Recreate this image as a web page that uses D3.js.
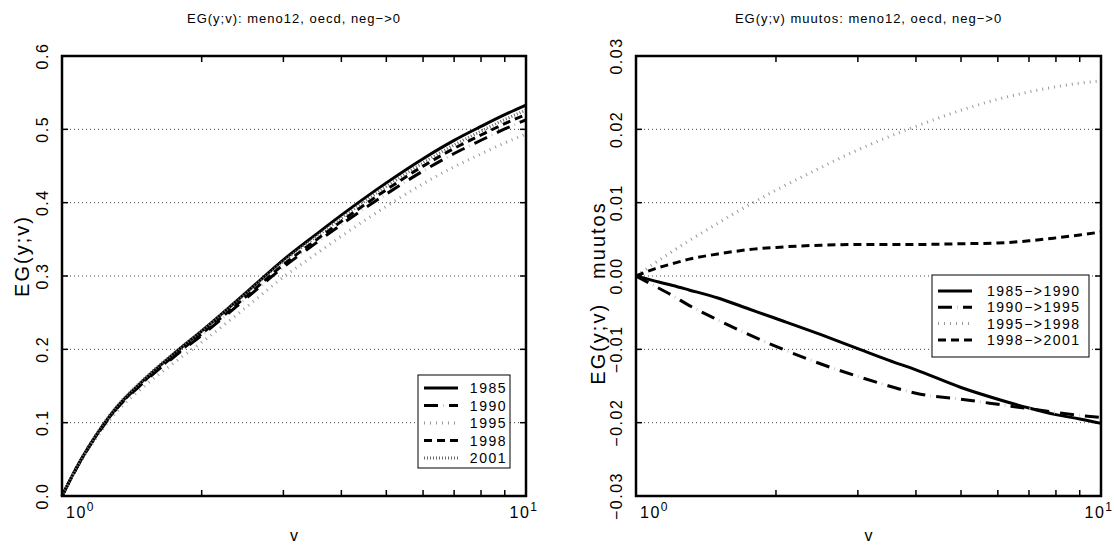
<!DOCTYPE html>
<html>
<head>
<meta charset="utf-8">
<script src="https://cdn.jsdelivr.net/npm/d3@7"></script>
<style>
  body { margin: 0; background: #fff; }
  text { font-family: "Liberation Sans", Arial, sans-serif; fill: #000; }
</style>
</head>
<body>
<div id="chart"></div>
<script>
// v grid (log axis) and the values
const vValues = [1, 1.1, 1.2, 1.3, 1.5, 1.75, 2, 2.5, 3, 3.5, 4, 5, 6, 7, 8, 9, 10];

const eg1985 = [0, 0.0500, 0.0880, 0.1180, 0.1580, 0.1950, 0.2250, 0.2780, 0.3220, 0.3550, 0.3830, 0.4270, 0.4600, 0.4850, 0.5040, 0.5200, 0.5330];
const eg1990 = [0, 0.0493, 0.0867, 0.1161, 0.1550, 0.1905, 0.2192, 0.2700, 0.3121, 0.3435, 0.3702, 0.4118, 0.4432, 0.4670, 0.4851, 0.5005, 0.5129];
const eg1995 = [0, 0.0479, 0.0840, 0.1121, 0.1490, 0.1825, 0.2096, 0.2580, 0.2984, 0.3285, 0.3542, 0.3950, 0.4257, 0.4489, 0.4665, 0.4815, 0.4936];
const eg1998 = [0, 0.0497, 0.0874, 0.1169, 0.1562, 0.1922, 0.2213, 0.2728, 0.3156, 0.3475, 0.3746, 0.4176, 0.4498, 0.4740, 0.4923, 0.5078, 0.5202];
const eg2001 = [0, 0.0507, 0.0891, 0.1192, 0.1592, 0.1958, 0.2252, 0.2770, 0.3199, 0.3518, 0.3789, 0.4220, 0.4543, 0.4788, 0.4975, 0.5134, 0.5262];

const ch8590 = [0, -0.0007, -0.0013, -0.0019, -0.0030, -0.0045, -0.0058, -0.0080, -0.0099, -0.0115, -0.0128, -0.0152, -0.0168, -0.0180, -0.0189, -0.0195, -0.0201];
const ch9095 = [0, -0.0014, -0.0027, -0.0040, -0.0060, -0.0080, -0.0096, -0.0120, -0.0137, -0.0150, -0.0160, -0.0168, -0.0175, -0.0181, -0.0186, -0.0190, -0.0193];
const ch9598 = [0, 0.0018, 0.0034, 0.0048, 0.0072, 0.0097, 0.0117, 0.0148, 0.0172, 0.0190, 0.0204, 0.0226, 0.0241, 0.0251, 0.0258, 0.0263, 0.0266];
const ch9801 = [0, 0.0010, 0.0017, 0.0023, 0.0030, 0.0036, 0.0039, 0.0042, 0.0043, 0.0043, 0.0043, 0.0044, 0.0045, 0.0048, 0.0052, 0.0056, 0.0060];

const levelNames = ["1985", "1990", "1995", "1998", "2001"];
const changeNames = ["1985\u2212>1990", "1990\u2212>1995", "1995\u2212>1998", "1998\u2212>2001"];

const levelTicks = [0, 0.1, 0.2, 0.3, 0.4, 0.5, 0.6];
const changeTicks = [-0.03, -0.02, -0.01, 0, 0.01, 0.02, 0.03];
const xMajor = [1, 10];
const xMajorExp = ["0", "1"];
const xMinor = [2, 3, 4, 5, 6, 7, 8, 9];

// IDL-like line styles: solid, long dash (+ faint dot), dotted, dashed, dense dots
const styles = [
  { w: 3, dash: null, color: "#000" },
  { w: 3, dash: "14,11", color: "#000", dot: { dash: "1,24", offset: -19, color: "#ccc" } },
  { w: 3, dash: "1,5", color: "#999" },
  { w: 3, dash: "8,5", color: "#000" },
  { w: 3, dash: "1,2", color: "#666" }
];

const W = 1114, H = 547;
const svg = d3.select("#chart").append("svg")
  .attr("width", W).attr("height", H)
  .attr("viewBox", [0, 0, W, H]);
svg.append("rect").attr("width", W).attr("height", H).attr("fill", "#fff");

function stroke(sel, st) {
  return sel.attr("fill", "none")
    .attr("stroke", st.color)
    .attr("stroke-width", st.w)
    .attr("stroke-dasharray", st.dash)
    .attr("stroke-dashoffset", st.offset || null);
}

function drawPanel(p) {
  const x = d3.scaleLog().domain([1, 10]).range([p.left, p.right]);
  const y = d3.scaleLinear().domain(p.yDomain).range([p.bottom, p.top]);
  const g = svg.append("g");

  // dotted grid
  g.selectAll(".grid").data(p.yTicks).join("line")
    .attr("x1", p.left).attr("x2", p.right)
    .attr("y1", d => y(d)).attr("y2", d => y(d))
    .attr("stroke", "#444").attr("stroke-width", 1)
    .attr("stroke-dasharray", "1,3");

  // y ticks on both sides, inward
  g.selectAll(".ytl").data(p.yTicks).join("line")
    .attr("x1", p.left).attr("x2", p.left + 6)
    .attr("y1", d => y(d)).attr("y2", d => y(d))
    .attr("stroke", "#000").attr("stroke-width", 1.5);
  g.selectAll(".ytr").data(p.yTicks).join("line")
    .attr("x1", p.right).attr("x2", p.right - 6)
    .attr("y1", d => y(d)).attr("y2", d => y(d))
    .attr("stroke", "#000").attr("stroke-width", 1.5);

  // log minor ticks on bottom and top
  [[p.bottom, -6], [p.top, 6]].forEach(([yy, len]) => {
    g.selectAll(null).data(xMinor).join("line")
      .attr("x1", d => x(d)).attr("x2", d => x(d))
      .attr("y1", yy).attr("y2", yy + len)
      .attr("stroke", "#000").attr("stroke-width", 1.5);
  });

  // curves
  const line = d3.line()
    .x((d, i) => x(vValues[i]))
    .y(d => y(d))
    .curve(d3.curveMonotoneX);
  p.series.forEach((s, i) => {
    const st = styles[p.styleIdx[i]];
    stroke(g.append("path").datum(s), st)
      .attr("stroke-linejoin", "round")
      .attr("d", line);
    if (st.dot) {
      stroke(g.append("path").datum(s), { w: st.w, ...st.dot }).attr("d", line);
    }
  });

  // frame
  g.append("rect")
    .attr("x", p.left).attr("y", p.top)
    .attr("width", p.right - p.left).attr("height", p.bottom - p.top)
    .attr("fill", "none").attr("stroke", "#000").attr("stroke-width", 2.5);

  // y tick labels, rotated
  g.selectAll(".ylab").data(p.yTicks).join("text")
    .attr("transform", d => `translate(${p.left - 14},${y(d)}) rotate(-90)`)
    .attr("text-anchor", "middle")
    .attr("font-size", 16)
    .attr("letter-spacing", 1.5)
    .text(d => d3.format(p.fmt)(d));

  // x tick labels 10^n
  xMajor.forEach((v, i) => {
    const t = g.append("text")
      .attr("x", i === 0 ? x(v) + 4 : x(v) - 2)
      .attr("y", p.bottom + 22)
      .attr("text-anchor", i === 0 ? "start" : "middle")
      .attr("font-size", 16)
      .attr("letter-spacing", 1.5)
      .text("10");
    t.append("tspan").attr("dy", -7).attr("font-size", 12).text(xMajorExp[i]);
  });

  // axis titles
  g.append("text")
    .attr("x", (p.left + p.right) / 2).attr("y", p.bottom + 45)
    .attr("text-anchor", "middle").attr("font-size", 16)
    .text("v");
  const yt = g.append("text")
    .attr("transform", `translate(${p.yTitleX},${p.yTitleY}) rotate(-90)`)
    .attr("text-anchor", "middle").attr("font-size", 20)
    .attr("letter-spacing", 2)
    .text(p.yTitle[0]);
  if (p.yTitle[1]) yt.append("tspan").attr("dx", 24).text(p.yTitle[1]);
  g.append("text")
    .attr("x", (p.left + p.right) / 2).attr("y", 23)
    .attr("text-anchor", "middle").attr("font-size", 13)
    .attr("letter-spacing", 1)
    .text(p.title);

  // legend
  const L = p.legend;
  g.append("rect")
    .attr("x", L.x).attr("y", L.y).attr("width", L.w).attr("height", L.h)
    .attr("fill", "#fff").attr("stroke", "#000").attr("stroke-width", 1);
  p.names.forEach((name, i) => {
    const st = styles[p.styleIdx[i]];
    const yy = L.y + L.first + i * L.step;
    const seg = () => g.append("line")
      .attr("x1", L.x + 6).attr("x2", L.x + 6 + L.sample)
      .attr("y1", yy).attr("y2", yy);
    stroke(seg(), st);
    if (st.dot) stroke(seg(), { w: st.w, ...st.dot });
    g.append("text")
      .attr("x", L.textX).attr("y", yy + 5)
      .attr("text-anchor", L.anchor)
      .attr("font-size", 14)
      .attr("letter-spacing", 1.5)
      .text(name);
  });
}

drawPanel({
  left: 62, right: 526, top: 56, bottom: 496,
  yDomain: [0, 0.6], yTicks: levelTicks, fmt: ".1f",
  series: [eg1985, eg1990, eg1995, eg1998, eg2001],
  styleIdx: [0, 1, 2, 3, 4],
  names: levelNames,
  title: "EG(y;v): meno12, oecd, neg\u2212>0",
  yTitle: ["EG(y;v)"], yTitleX: 29, yTitleY: 256,
  legend: { x: 418, y: 375, w: 92, h: 93, first: 13, step: 17.5, sample: 34, textX: 507, anchor: "end" }
});

drawPanel({
  left: 636, right: 1101, top: 56, bottom: 496,
  yDomain: [-0.03, 0.03], yTicks: changeTicks, fmt: ".2f",
  series: [ch8590, ch9095, ch9598, ch9801],
  styleIdx: [0, 1, 2, 3],
  names: changeNames,
  title: "EG(y;v) muutos: meno12, oecd, neg\u2212>0",
  yTitle: ["EG(y;v)", "muutos"], yTitleX: 605, yTitleY: 293,
  legend: { x: 932, y: 275, w: 157, h: 82, first: 16, step: 16.3, sample: 34, textX: 987, anchor: "start" }
});
</script>
</body>
</html>
